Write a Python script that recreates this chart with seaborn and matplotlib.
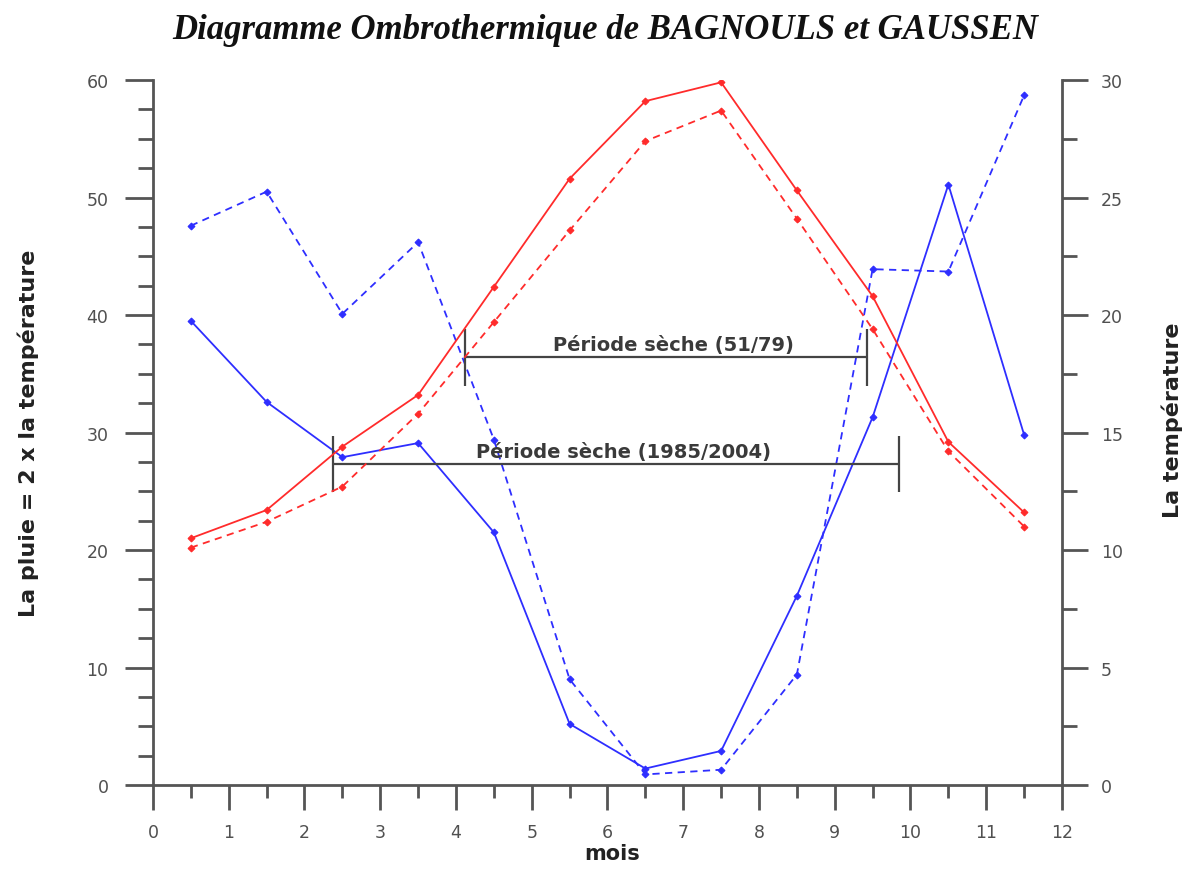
import matplotlib
matplotlib.use("Agg")
import matplotlib.pyplot as plt
from matplotlib.ticker import MultipleLocator
import seaborn as sns

mois = [0.5, 1.5, 2.5, 3.5, 4.5, 5.5, 6.5, 7.5, 8.5, 9.5, 10.5, 11.5]

# Pluie (mm) - axe de gauche
pluie_1985_2004 = [39.5, 32.6, 27.9, 29.1, 21.5, 5.2, 1.4, 2.9, 16.1, 31.3, 51.1, 29.8]
pluie_1951_1979 = [47.6, 50.5, 40.1, 46.2, 29.4, 9.0, 0.9, 1.3, 9.4, 43.9, 43.7, 58.7]

# Temperature (degC) - axe de droite
temp_1985_2004 = [10.5, 11.7, 14.4, 16.6, 21.2, 25.8, 29.1, 29.9, 25.3, 20.8, 14.6, 11.6]
temp_1951_1979 = [10.1, 11.2, 12.7, 15.8, 19.7, 23.6, 27.4, 28.7, 24.1, 19.4, 14.2, 11.0]

# Periodes seches (debut / fin en mois)
periode_labels = ["Période sèche (51/79)", "Période sèche (1985/2004)"]
periode_debut = [4.12, 2.38]
periode_fin = [9.42, 9.85]

sns.set_theme(style="ticks")
plt.rcParams['font.family'] = ['DejaVu Sans']

rouge = '#ff2b2b'
bleu = '#2e2eff'
gris = '#555555'

fig = plt.figure(figsize=(11.91, 8.70), dpi=100)
ax = fig.add_axes([0.12846, 0.09655, 0.76322, 0.81034])
ax2 = ax.twinx()

# Pluie
sns.lineplot(x=mois, y=pluie_1985_2004, ax=ax, color=bleu, lw=1.3,
             marker='D', markersize=3.5, markeredgecolor=bleu)
sns.lineplot(x=mois, y=pluie_1951_1979, ax=ax, color=bleu, lw=1.3,
             linestyle=(0, (4, 3)), marker='D', markersize=3.5, markeredgecolor=bleu)

# Temperature
sns.lineplot(x=mois, y=temp_1985_2004, ax=ax2, color=rouge, lw=1.3,
             marker='D', markersize=3.5, markeredgecolor=rouge)
sns.lineplot(x=mois, y=temp_1951_1979, ax=ax2, color=rouge, lw=1.3,
             linestyle=(0, (4, 3)), marker='D', markersize=3.5, markeredgecolor=rouge)

# Periodes seches
niveaux = [36.4, 27.3]
for lab, d, f, n in zip(periode_labels, periode_debut, periode_fin, niveaux):
    ax.hlines(n, d, f, color='#444444', lw=1.6, zorder=5)
    ax.vlines([d, f], n - 2.4, n + 2.4, color='#444444', lw=1.6, zorder=5)
    ax.text((d + f) / 2 + 0.1, n + 1.1, lab, ha='center', va='center',
            fontsize=14, fontweight='bold', color='#3a3a3a', zorder=6)

# Axes
ax.set_xlim(0, 12)
ax.set_ylim(0, 60)
ax2.set_ylim(0, 30)
ax.xaxis.set_major_locator(MultipleLocator(1))
ax.xaxis.set_minor_locator(MultipleLocator(0.5))
ax.yaxis.set_major_locator(MultipleLocator(10))
ax.yaxis.set_minor_locator(MultipleLocator(2.5))
ax2.yaxis.set_major_locator(MultipleLocator(5))
ax2.yaxis.set_minor_locator(MultipleLocator(2.5))

for s in ['top', 'right']:
    ax.spines[s].set_visible(False)
for s in ['top', 'left', 'bottom']:
    ax2.spines[s].set_visible(False)
for a in (ax, ax2):
    for s in a.spines.values():
        s.set_color(gris)
        s.set_linewidth(2)

ax.tick_params(axis='y', which='major', length=20, width=2, color=gris,
               labelsize=12.5, labelcolor='#505050', pad=12)
ax.tick_params(axis='y', which='minor', length=11, width=2, color=gris)
ax.tick_params(axis='x', which='major', length=18, width=2, color=gris,
               labelsize=12.5, labelcolor='#505050', pad=9)
ax.tick_params(axis='x', which='minor', length=9, width=2, color=gris)
ax2.tick_params(axis='y', which='major', length=19, width=2, color=gris,
                labelsize=12.5, labelcolor='#505050', pad=9)
ax2.tick_params(axis='y', which='minor', length=11, width=2, color=gris)

ax.set_xlabel('mois', fontsize=15, fontweight='bold', color='#222222', va='center')
ax.xaxis.set_label_coords(0.505, -0.097)
ax.set_ylabel('La pluie = 2 x la température', fontsize=16, fontweight='bold',
              color='#222222', va='center')
ax.yaxis.set_label_coords(-0.1375, 0.5)
ax2.set_ylabel('La température', fontsize=16, fontweight='bold',
               color='#222222', rotation=90, va='center')
ax2.yaxis.set_label_coords(1.121, 0.519)

fig.text(0.508, 0.9655, 'Diagramme Ombrothermique de BAGNOULS et GAUSSEN',
         ha='center', va='center', fontsize=25, fontweight='bold', style='italic',
         family=['Liberation Serif', 'DejaVu Serif'], color='#111111')

fig.savefig('out.png', dpi=100)
plt.close(fig)
